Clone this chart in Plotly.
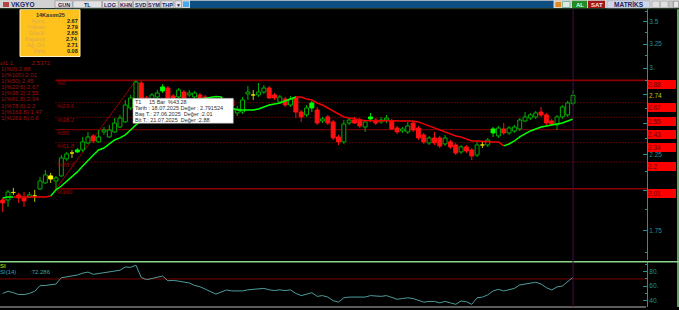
import numpy as np
import plotly.graph_objects as go

W, H = 679, 310
FONT = "Liberation Sans"

# ---------------- data ----------------
open_ = [1.936, 1.936, 1.985, 1.969, 1.949, 1.956, 1.962, 2.008, 2.049, 2.076,
         2.062, 2.097, 2.219, 2.263, 2.271, 2.286, 2.340, 2.395, 2.348, 2.427,
         2.387, 2.427, 2.467, 2.509, 2.628, 2.699, 2.855, 2.717, 2.708, 2.726,
         2.781, 2.808, 2.735, 2.726, 2.771, 2.744, 2.726, 2.744, 2.726, 2.663,
         2.611, 2.672, 2.585, 2.699, 2.585, 2.593, 2.753, 2.744, 2.744, 2.771,
         2.808, 2.744, 2.681, 2.708, 2.654, 2.717, 2.593, 2.568, 2.628, 2.611,
         2.517, 2.551, 2.509, 2.387, 2.348, 2.500, 2.525, 2.525, 2.467, 2.534,
         2.525, 2.509, 2.525, 2.517, 2.459, 2.435, 2.427, 2.500, 2.459, 2.403,
         2.340, 2.379, 2.379, 2.332, 2.348, 2.324, 2.271, 2.309, 2.286, 2.248,
         2.324, 2.324, 2.419, 2.395, 2.451, 2.419, 2.435, 2.451, 2.517, 2.542,
         2.551, 2.593, 2.568, 2.517, 2.484, 2.551, 2.568, 2.67]
high = [1.949, 2.002, 2.015, 1.982, 1.988, 1.988, 2.002, 2.090, 2.139, 2.118,
        2.097, 2.248, 2.271, 2.286, 2.301, 2.387, 2.427, 2.411, 2.443, 2.467,
        2.484, 2.542, 2.568, 2.699, 2.744, 2.880, 2.874, 2.735, 2.762, 2.790,
        2.846, 2.827, 2.753, 2.808, 2.790, 2.790, 2.781, 2.762, 2.744, 2.690,
        2.708, 2.699, 2.681, 2.717, 2.646, 2.726, 2.827, 2.790, 2.855, 2.836,
        2.827, 2.762, 2.744, 2.726, 2.735, 2.735, 2.611, 2.654, 2.690, 2.637,
        2.551, 2.568, 2.525, 2.403, 2.525, 2.542, 2.551, 2.542, 2.525, 2.585,
        2.542, 2.551, 2.568, 2.534, 2.476, 2.467, 2.509, 2.517, 2.476, 2.419,
        2.395, 2.427, 2.395, 2.403, 2.363, 2.340, 2.324, 2.324, 2.301, 2.348,
        2.348, 2.379, 2.467, 2.476, 2.500, 2.476, 2.484, 2.542, 2.593, 2.585,
        2.602, 2.637, 2.585, 2.534, 2.568, 2.654, 2.690, 2.79]
low = [1.861, 1.892, 1.969, 1.917, 1.892, 1.949, 1.924, 2.002, 2.042, 2.049,
       2.010, 2.090, 2.204, 2.226, 2.263, 2.271, 2.332, 2.340, 2.340, 2.403,
       2.379, 2.419, 2.459, 2.500, 2.611, 2.681, 2.672, 2.593, 2.681, 2.699,
       2.762, 2.699, 2.672, 2.708, 2.699, 2.726, 2.708, 2.690, 2.628, 2.585,
       2.593, 2.568, 2.559, 2.619, 2.559, 2.576, 2.699, 2.699, 2.726, 2.753,
       2.708, 2.699, 2.663, 2.637, 2.637, 2.542, 2.509, 2.551, 2.593, 2.484,
       2.500, 2.484, 2.363, 2.324, 2.332, 2.484, 2.492, 2.459, 2.427, 2.509,
       2.484, 2.492, 2.500, 2.443, 2.411, 2.419, 2.411, 2.427, 2.363, 2.332,
       2.324, 2.324, 2.301, 2.317, 2.294, 2.248, 2.256, 2.263, 2.211, 2.233,
       2.301, 2.309, 2.387, 2.379, 2.403, 2.403, 2.419, 2.435, 2.509, 2.525,
       2.534, 2.551, 2.484, 2.476, 2.443, 2.534, 2.551, 2.65]
close = [1.917, 1.988, 1.985, 1.949, 1.930, 1.969, 1.962, 2.062, 2.104, 2.097,
         2.083, 2.226, 2.256, 2.263, 2.286, 2.348, 2.387, 2.355, 2.387, 2.443,
         2.443, 2.500, 2.542, 2.654, 2.717, 2.865, 2.699, 2.628, 2.744, 2.762,
         2.818, 2.717, 2.699, 2.790, 2.717, 2.762, 2.762, 2.708, 2.654, 2.611,
         2.681, 2.593, 2.654, 2.646, 2.619, 2.699, 2.771, 2.744, 2.771, 2.808,
         2.717, 2.717, 2.726, 2.654, 2.708, 2.593, 2.551, 2.628, 2.672, 2.500,
         2.534, 2.500, 2.379, 2.348, 2.492, 2.525, 2.500, 2.476, 2.509, 2.551,
         2.500, 2.525, 2.542, 2.451, 2.427, 2.451, 2.476, 2.443, 2.379, 2.348,
         2.379, 2.340, 2.317, 2.379, 2.309, 2.263, 2.309, 2.278, 2.241, 2.324,
         2.324, 2.363, 2.451, 2.459, 2.419, 2.459, 2.467, 2.525, 2.551, 2.568,
         2.585, 2.568, 2.500, 2.492, 2.551, 2.637, 2.672, 2.74]
trail = [1.949, 1.956, 1.956, 1.956, 1.956, 1.956, 1.956, 1.956, 1.956, 1.962,
         2.002, 2.028, 2.062, 2.090, 2.125, 2.168, 2.211, 2.248, 2.286, 2.301,
         2.332, 2.363, 2.379, 2.403, 2.443, 2.484, 2.517, 2.542, 2.568, 2.593,
         2.611, 2.637, 2.654, 2.663, 2.672, 2.690, 2.699, 2.708, 2.717, 2.726,
         2.730, 2.726, 2.654, 2.628, 2.611, 2.611, 2.611, 2.611, 2.619, 2.637,
         2.654, 2.663, 2.672, 2.690, 2.708, 2.726, 2.726, 2.708, 2.699, 2.672,
         2.654, 2.628, 2.602, 2.576, 2.551, 2.542, 2.534, 2.521, 2.519, 2.519,
         2.519, 2.519, 2.519, 2.519, 2.519, 2.519, 2.519, 2.517, 2.509, 2.492,
         2.476, 2.459, 2.443, 2.427, 2.411, 2.395, 2.387, 2.371, 2.355, 2.355,
         2.352, 2.348, 2.348, 2.348, 2.317, 2.332, 2.355, 2.387, 2.411, 2.435,
         2.451, 2.467, 2.476, 2.484, 2.488, 2.500, 2.517, 2.534]
trail_turns = [2, 9, 55, 94]          # bars where the trailing line flips colour
rsi = [50, 53, 51, 48.5, 48.5, 50, 53, 60.7, 61, 61.5,
       63, 71.7, 73.1, 74, 75.4, 78, 79.5, 76.4, 77.5, 78.5,
       79.5, 80.5, 82, 86.5, 86, 89, 72, 69, 71, 73,
       74, 67.5, 68, 67, 65.5, 64.5, 61, 59.3, 56, 53,
       49, 52, 54.8, 53.5, 53, 53.5, 55, 56, 57, 57,
       55, 54, 55, 54, 55, 50, 47, 49, 51, 46,
       47, 45, 40, 38, 44, 45, 45, 44, 45, 47,
       46, 46, 47, 44, 42, 43, 44, 43, 40, 38,
       39, 39, 37, 39, 37, 35, 39.6, 38.6, 35, 44,
       45, 48, 53.4, 55.7, 53.4, 54.8, 57, 61.7, 63, 64,
       65.4, 63, 58, 54.8, 59, 60.3, 66.2, 72.3]
green_filled = [14, 30, 58, 69, 92]
yellow_filled = [9]

fib_start, fib_end = 10, 25
fib_low, fib_high = 2.01, 2.88
fib_pcts = [0, 23.6, 38.2, 50, 61.8, 78.6, 100]
fib_names = ["%0", "%23.6", "%38.2", "%50", "%61.8", "%78.6", "%100"]
fib_axis_text = ["2.88", "2.67", "2.55", "2.43", "2.34", "2.2", "2.01"]
fib_solid = [0, 50, 100]
fib_list = ["1(%0):2.88", "1(%100):2.01", "1(%50):2.45", "1(%23.6):2.67",
            "1(%38.2):2.55", "1(%61.8):2.34", "1(%78.6):2.2", "1(%161.8):1.47",
            "1(%261.8):0.6"]

info_title = "14Kasım25"
info_labels = ["Açılış", "Yüksek", "Düşük", "Kapanış", "Ağ. Ort", "Fark"]
info_values = ["2.67", "2.79", "2.65", "2.74", "2.71", "0.08"]

tip_lines = ["Tarih : 18.07.2025 Değer : 2.791524",
             "Baş T.: 27.06.2025  Değer :2.01",
             "Bit T.: 21.07.2025  Değer :2.88"]
last_price = 2.74
rsi_last = "72.286"

price_ticks = [1.75, 2.0, 2.25, 2.5, 2.75, 3.0, 3.25, 3.5]
price_tick_text = ["1.75", "", "2.25", "", "", "3.", "3.25", "3.5"]
price_minor = [1.625, 1.875, 2.125, 2.375, 2.625, 2.875, 3.125, 3.375, 3.625]
rsi_ticks = [40, 60, 80]
rsi_tick_text = ["40.", "60.", "80."]

toolbar_left = ["GUN", "TL", "LOG", "KHN", "SVD", "SYM", "THP"]

# ---------------- figure ----------------
n = len(close)
bars = np.arange(n)
fig = go.Figure()

X_RANGE = [-0.507, 120.88]
TEAL = "#1E9494"


def px(x):
    return x / W


def py(y):
    return 1 - y / H


# fib levels
fib_vals = [fib_high - p / 100 * (fib_high - fib_low) for p in fib_pcts]
for p, v in zip(fib_pcts, fib_vals):
    solid = p in fib_solid
    fig.add_trace(go.Scatter(
        x=[fib_start - 0.1, X_RANGE[1]], y=[v, v], mode="lines",
        line=dict(color="#8A0000" if solid else "#B00000",
                  width=1.6 if p in (0, 100) else 1,
                  dash="solid" if solid else "1px,2px"),
        hoverinfo="skip", xaxis="x", yaxis="y"))
# trend line
fig.add_trace(go.Scatter(x=[fib_start, fib_end], y=[fib_low, fib_high], mode="lines",
                         line=dict(color="#9A0000", width=1), hoverinfo="skip",
                         xaxis="x", yaxis="y"))

# candles
kind = []
for i in range(n):
    if i in green_filled:
        kind.append("G")
    elif i in yellow_filled:
        kind.append("Y")
    elif abs(close[i] - open_[i]) < 1e-9:
        kind.append("D")
    elif close[i] > open_[i]:
        kind.append("U")
    else:
        kind.append("R")

styles = {
    "U": ("#00B000", "#000000", "#00B000"),
    "R": ("#FF1010", "#FF1010", "#FF1010"),
    "D": ("#E0E000", "#E0E000", "#C8C800"),
    "G": ("#00FF00", "#00FF00", "#00D000"),
    "Y": ("#FFFF00", "#FFFF00", "#C8C800"),
}
HW = 0.37
for k, (lc, fc, wc) in styles.items():
    sel = [i for i in range(n) if kind[i] == k]
    if not sel:
        continue
    wx, wy, bx, by = [], [], [], []
    for i in sel:
        wx += [i, i, None]
        wy += [low[i], high[i], None]
        b0, b1 = min(open_[i], close[i]), max(open_[i], close[i])
        bx += [i - HW, i + HW, i + HW, i - HW, i - HW, None]
        by += [b0, b0, b1, b1, b0, None]
    fig.add_trace(go.Scatter(x=wx, y=wy, mode="lines", line=dict(color=wc, width=1),
                             hoverinfo="skip", xaxis="x", yaxis="y"))
    fig.add_trace(go.Scatter(x=bx, y=by, mode="lines", fill="toself", fillcolor=fc,
                             line=dict(color=lc, width=1), hoverinfo="skip",
                             xaxis="x", yaxis="y"))

# trailing line (green when rising, red when falling)
edges = [0] + trail_turns + [n - 1]
up = True
for a, b in zip(edges[:-1], edges[1:]):
    seg = list(range(a, b + 1))
    fig.add_trace(go.Scatter(x=seg, y=[trail[i] for i in seg], mode="lines",
                             line=dict(color="#00FF00" if up else "#F00000", width=1.5),
                             hoverinfo="skip", xaxis="x", yaxis="y"))
    up = not up

# RSI
fig.add_trace(go.Scatter(x=[X_RANGE[0], X_RANGE[1]], y=[70, 70], mode="lines",
                         line=dict(color="#7A0000", width=1), hoverinfo="skip",
                         xaxis="x2", yaxis="y2"))
fig.add_trace(go.Scatter(x=bars, y=rsi, mode="lines", line=dict(color="#4F9C9C", width=1),
                         hoverinfo="skip", xaxis="x2", yaxis="y2"))

shapes = []
ann = []


def txt(x, y, s, size=6, color="#000", xanchor="left", bold=False, xref="paper", yref="paper",
        yanchor="middle"):
    ann.append(dict(xref=xref, yref=yref,
                    x=px(x) if xref == "paper" else x,
                    y=py(y) if yref == "paper" else y,
                    text=f"<b>{s}</b>" if bold else s, showarrow=False,
                    xanchor=xanchor, yanchor=yanchor, borderpad=0, borderwidth=0,
                    font=dict(size=size, color=color, family=FONT)))


def rect(x0, y0, x1, y1, fill, line=None, lw=0):
    shapes.append(dict(type="rect", xref="paper", yref="paper", x0=px(x0), x1=px(x1),
                       y0=py(y1), y1=py(y0), fillcolor=fill,
                       line=dict(color=line or fill, width=lw), layer="above"))


def hline(x0, x1, y, color, w=1):
    shapes.append(dict(type="line", xref="paper", yref="paper", x0=px(x0), x1=px(x1),
                       y0=py(y), y1=py(y), line=dict(color=color, width=w), layer="above"))


def vline(x, y0, y1, color, w=1):
    shapes.append(dict(type="line", xref="paper", yref="paper", x0=px(x), x1=px(x),
                       y0=py(y0), y1=py(y1), line=dict(color=color, width=w), layer="above"))


# frame lines
hline(0, 679, 261.8, "#8ED88E", 1.5)
vline(678, 9, 307, "#8ED88E", 1.5)
hline(0, 646, 307, "#B8B8B8", 1)
shapes.append(dict(type="line", xref="x", yref="paper", x0=n - 1, x1=n - 1,
                   y0=py(307), y1=py(9), line=dict(color="#4A0A4A", width=1), layer="above"))

# fib labels on the chart
for name, v in zip(fib_names, fib_vals):
    txt(fib_start + 0.2, np.log10(v), name, size=6, color="#A00000", xref="x", yref="y",
        yanchor="top")

# red price boxes on the right
for s, v in zip(fib_axis_text, fib_vals):
    ann.append(dict(xref="paper", yref="y", x=px(647.5), y=np.log10(v), text=s,
                    showarrow=False, xanchor="left", yanchor="top", align="left",
                    width=28, height=9, borderpad=0, borderwidth=0, bgcolor="#FF0000",
                    font=dict(size=6.5, color="#6A0000", family=FONT)))
ann.append(dict(xref="paper", yref="y", x=px(649), y=np.log10(last_price), text=f"{last_price:.2f}",
                showarrow=False, xanchor="left", yanchor="middle", borderpad=0, borderwidth=0,
                font=dict(size=6.5, color="#C8C000", family=FONT)))

# left fib list
txt(0, 62.5, "ol1.1", size=6, color="#A01010")
txt(30, 62.5, ":2.5372", size=6, color="#A01010")
for k, s in enumerate(fib_list):
    txt(0.5, 69.2 + k * 6.05, s, size=6, color="#A01010")

# info box
rect(20, 9.5, 80, 56.5, "#FFC21C", "#FFF2C0", 1)
txt(50, 15, info_title, size=5.5, color="#333333", xanchor="center", bold=True)
for k, (lab, val) in enumerate(zip(info_labels, info_values)):
    yy = 20.8 + k * 6.1
    txt(44.5, yy, lab, size=5.5, color="#D9A95A", xanchor="right")
    txt(78, yy, val, size=5.5, color="#202020", xanchor="right", bold=True)

# tooltip
rect(133, 98.3, 233.3, 123.3, "#FFFFFF", "#9A9A9A", 0.6)
txt(135, 101.8, "T1", size=5.5, color="#303030")
txt(149, 101.8, f"{fib_end - fib_start} Bar", size=5.5, color="#303030")
txt(167.5, 101.8, "%43.28", size=5.5, color="#303030")
for k, s in enumerate(tip_lines):
    txt(135, 107.8 + k * 6.1, s, size=5.5, color="#303030")

# RSI texts
txt(0, 265.8, "SI", size=6, color="#B8B800", bold=True)
txt(0, 272.4, "SI(14)", size=6, color="#3AA3A3")
txt(29.5, 272.4, ":" + rsi_last, size=6, color="#3AA3A3")

# toolbar
rect(0, 0, 679, 8.3, "#D2D2D2")
hline(0, 679, 8.8, "#203820", 1)
rect(3, 2, 9, 7, "#B04848")
txt(10.5, 4.5, "VKGYO", size=6.5, color="#1A2466", bold=True)
btn_edges = [55, 73, 102.5, 119, 133.5, 148, 161, 174]
for k, lab in enumerate(toolbar_left):
    x0, x1 = btn_edges[k], btn_edges[k + 1] - 0.8
    rect(x0, 0.8, x1, 7.8, "#E2E2E2", "#8C8C8C", 0.6)
    txt((x0 + x1) / 2, 4.5, lab, size=5.5, color="#1A2466", xanchor="center", bold=True)
rect(175, 0.8, 181.5, 7.8, "#E2E2E2", "#8C8C8C", 0.6)
txt(178.3, 4.6, "▼", size=5, color="#1A2466", xanchor="center")
rect(183, 1.5, 189, 7, "#49A8E8")
rect(190, 0.8, 553.5, 8, "#0E4D80")
rect(555, 1.5, 561.5, 7.5, "#E08A20", "#F0F0F0", 0.5)
rect(562.5, 1.5, 570, 7.5, "#DDE8E0", "#40A080", 0.6)
rect(572, 0.8, 587, 8, "#238C23")
txt(579.5, 4.5, "AL", size=6, color="#D8FFD8", xanchor="center", bold=True)
rect(588, 0.8, 605, 8, "#A01818")
txt(596.5, 4.5, "SAT", size=6, color="#FFE0E0", xanchor="center", bold=True)
rect(607, 0.8, 650, 8, "#CED6E8", "#9AA4B8", 0.5)
txt(628.5, 4.5, "MATRİKS", size=6.5, color="#1A2466", xanchor="center", bold=True)
rect(652, 1.2, 659.5, 7.6, "#E0E0E0", "#9A9A9A", 0.5)
rect(660.5, 1.2, 668, 7.6, "#E0E0E0", "#9A9A9A", 0.5)
rect(669, 1.2, 673, 7.6, "#C8C8C8", "#9A9A9A", 0.5)
rect(673.5, 1.2, 678.5, 7.6, "#E8E8E8", "#6A6A6A", 0.5)

main_dom = [py(260), py(9)]
rsi_dom = [py(307), py(262)]
ax_common = dict(showgrid=False, zeroline=False, visible=False, range=X_RANGE,
                 domain=[0, px(647)])

fig.update_layout(
    width=W, height=H, margin=dict(l=0, r=0, t=0, b=0),
    paper_bgcolor="#000000", plot_bgcolor="#000000", showlegend=False,
    xaxis=dict(**ax_common, anchor="y"),
    xaxis2=dict(**ax_common, anchor="y2"),
    yaxis=dict(type="log", domain=main_dom, anchor="x", side="right",
               range=[np.log10(1.586), np.log10(3.651)],
               showgrid=False, zeroline=False, showline=True, linecolor=TEAL, linewidth=1,
               ticks="inside", ticklen=4, tickcolor=TEAL, tickwidth=1,
               tickvals=price_ticks, ticktext=price_tick_text,
               tickfont=dict(size=6.5, color=TEAL, family=FONT),
               minor=dict(tickvals=price_minor, ticks="inside", ticklen=2, tickcolor=TEAL)),
    yaxis2=dict(domain=rsi_dom, anchor="x2", side="right", range=[31.3, 93.4],
                showgrid=False, zeroline=False, showline=True, linecolor=TEAL, linewidth=1,
                ticks="inside", ticklen=4, tickcolor=TEAL,
                tickvals=rsi_ticks, ticktext=rsi_tick_text,
                tickfont=dict(size=6.5, color=TEAL, family=FONT),
                minor=dict(tickvals=[50, 70, 90], ticks="inside", ticklen=2, tickcolor=TEAL)),
    shapes=shapes, annotations=ann,
)

fig.write_html("out.html")
